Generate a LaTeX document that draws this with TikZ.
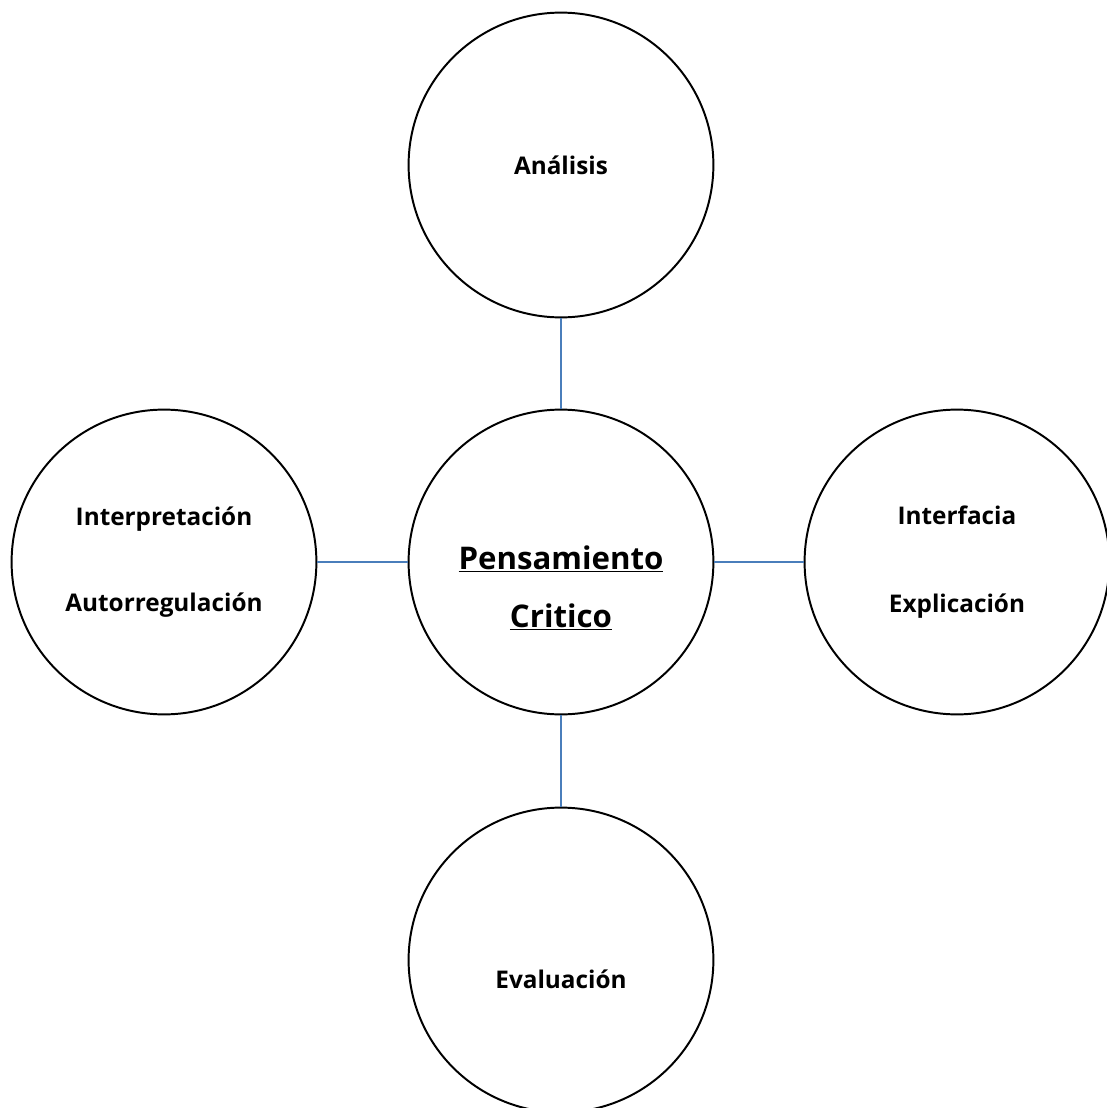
\documentclass[tikz,border=0pt]{standalone}
\usepackage{fontspec}
\setmainfont{Open Sans}
\definecolor{linkblue}{RGB}{74,126,187}
\begin{document}
\begin{tikzpicture}[
  bubble/.style={circle, draw, line width=1.4pt, minimum size=7.62cm, inner sep=0pt},
  word/.style={font=\bfseries\fontsize{17.3}{21}\selectfont, align=center},
  title/.style={font=\bfseries\fontsize{22.2}{26}\selectfont, align=center},
  link/.style={draw=linkblue, line width=1.2pt}]
\useasboundingbox (-14.025,-13.65) rectangle (13.65,14.05);
\node[bubble] (PC) at (0,0) {};
\node[bubble] (AN) at (0,9.925) {};
\node[bubble] (IA) at (-9.925,0) {};
\node[bubble] (IE) at (9.9,0) {};
\node[bubble] (EV) at (0,-9.95) {};

\draw[link] (AN) -- (PC);
\draw[link] (IA) -- (PC);
\draw[link] (IE) -- (PC);
\draw[link] (EV) -- (PC);

\node[title] (PCtxt) at (0,-0.65) {\underline{Pensamiento}\\[0.53cm]\underline{Critico}};
\node[word] (ANtxt) at (AN) {Análisis};
\node[word] (IAtxt) at (IA) {Interpretación\\[1.43cm]Autorregulación};
\node[word] (IEtxt) at (IE) {Interfacia\\[1.48cm]Explicación};
\node[word] (EVtxt) at ([yshift=-0.475cm]EV) {Evaluación};
\end{tikzpicture}
\end{document}
